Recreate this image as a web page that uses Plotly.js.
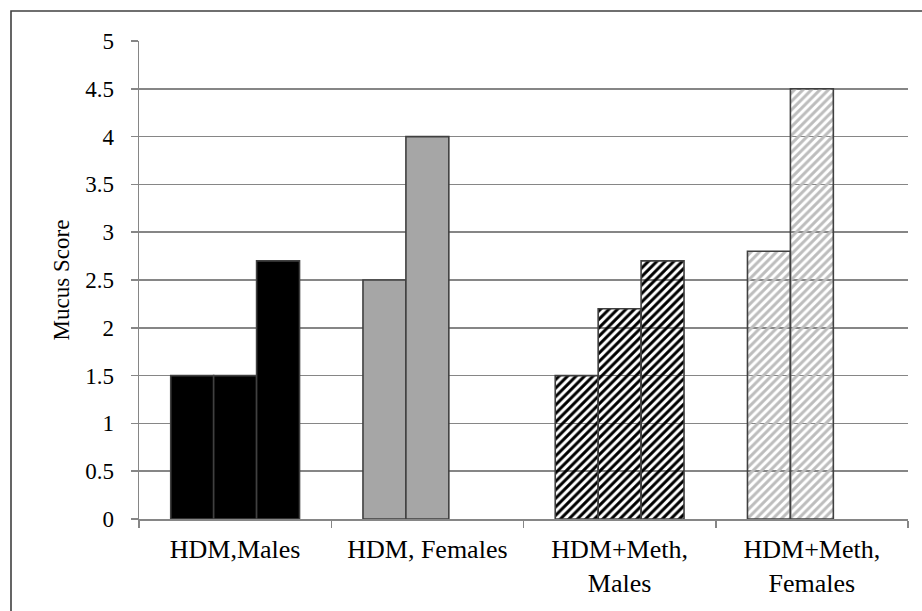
<!DOCTYPE html>
<html>
<head>
<meta charset="utf-8">
<script src="https://cdn.plot.ly/plotly-3.0.1.min.js"></script>
<style>
  html, body { margin: 0; padding: 0; background: #ffffff; }
  #chart { width: 922px; height: 611px; }
</style>
</head>
<body>
<div id="chart"></div>
<script>
// Categories (x-axis tick labels)
const categories = ['HDM,Males', 'HDM, Females', 'HDM+Meth,<br>Males', 'HDM+Meth,<br>Females'];

// Three bars per group (null = no bar in that slot)
const series1 = [1.5, 2.5, 1.5, 2.8];
const series2 = [1.5, 4.0, 2.2, 4.5];
const series3 = [2.7, null, 2.7, null];

// Per-group fill style
const groupColors = ['#000000', '#a6a6a6', '#000000', '#bdbdbd'];
const groupPatterns = ['', '', '/', '/'];

const yTitle = 'Mucus Score';

const fontFam = 'Liberation Serif, Times New Roman, serif';

function makeTrace(vals) {
  return {
    type: 'bar',
    x: categories,
    y: vals,
    hoverinfo: 'skip',
    showlegend: false,
    marker: {
      color: groupColors,
      line: { color: '#404040', width: 1.6 },
      pattern: {
        shape: groupPatterns,
        bgcolor: '#ffffff',
        size: 6,
        solidity: 0.5,
        fillmode: 'replace'
      }
    }
  };
}

const data = [makeTrace(series1), makeTrace(series2), makeTrace(series3)];

const plotL = 139, plotR = 14, plotT = 41, plotB = 92;
const W = 922, H = 611;
const pw = W - plotL - plotR, ph = H - plotT - plotB;

const layout = {
  width: W,
  height: H,
  margin: { l: plotL, r: plotR, t: plotT, b: plotB, pad: 0 },
  paper_bgcolor: '#ffffff',
  plot_bgcolor: '#ffffff',
  barmode: 'group',
  bargap: 0.33,
  bargroupgap: 0,
  font: { family: fontFam, color: '#000000' },
  xaxis: {
    type: 'category',
    showgrid: false,
    showline: true,
    linecolor: '#868686',
    linewidth: 1.5,
    ticks: 'outside',
    tickson: 'boundaries',
    ticklen: 7,
    tickwidth: 1.5,
    tickcolor: '#868686',
    tickfont: { family: fontFam, size: 26, color: '#000000' },
    ticklabelstandoff: 6,
    fixedrange: true
  },
  yaxis: {
    range: [0, 5],
    tick0: 0,
    dtick: 0.5,
    showgrid: true,
    gridcolor: '#868686',
    gridwidth: 1.5,
    zeroline: false,
    showline: true,
    linecolor: '#868686',
    linewidth: 1.5,
    ticks: 'outside',
    ticklen: 7,
    tickwidth: 1.5,
    tickcolor: '#868686',
    tickfont: { family: fontFam, size: 23, color: '#000000' },
    ticklabelstandoff: 12,
    title: { text: yTitle, standoff: 9, font: { family: fontFam, size: 23, color: '#000000' } },
    fixedrange: true
  },
  shapes: [{
    type: 'rect',
    xref: 'paper', yref: 'paper',
    x0: (11 - plotL) / pw, x1: (W + 4 - plotL) / pw,
    y0: (ph + plotT - (H + 10)) / ph, y1: (ph + plotT - 11) / ph,
    line: { color: '#404040', width: 1.6 },
    fillcolor: 'rgba(0,0,0,0)',
    layer: 'above'
  }]
};

Plotly.newPlot('chart', data, layout, { displayModeBar: false, staticPlot: true });
</script>
</body>
</html>
